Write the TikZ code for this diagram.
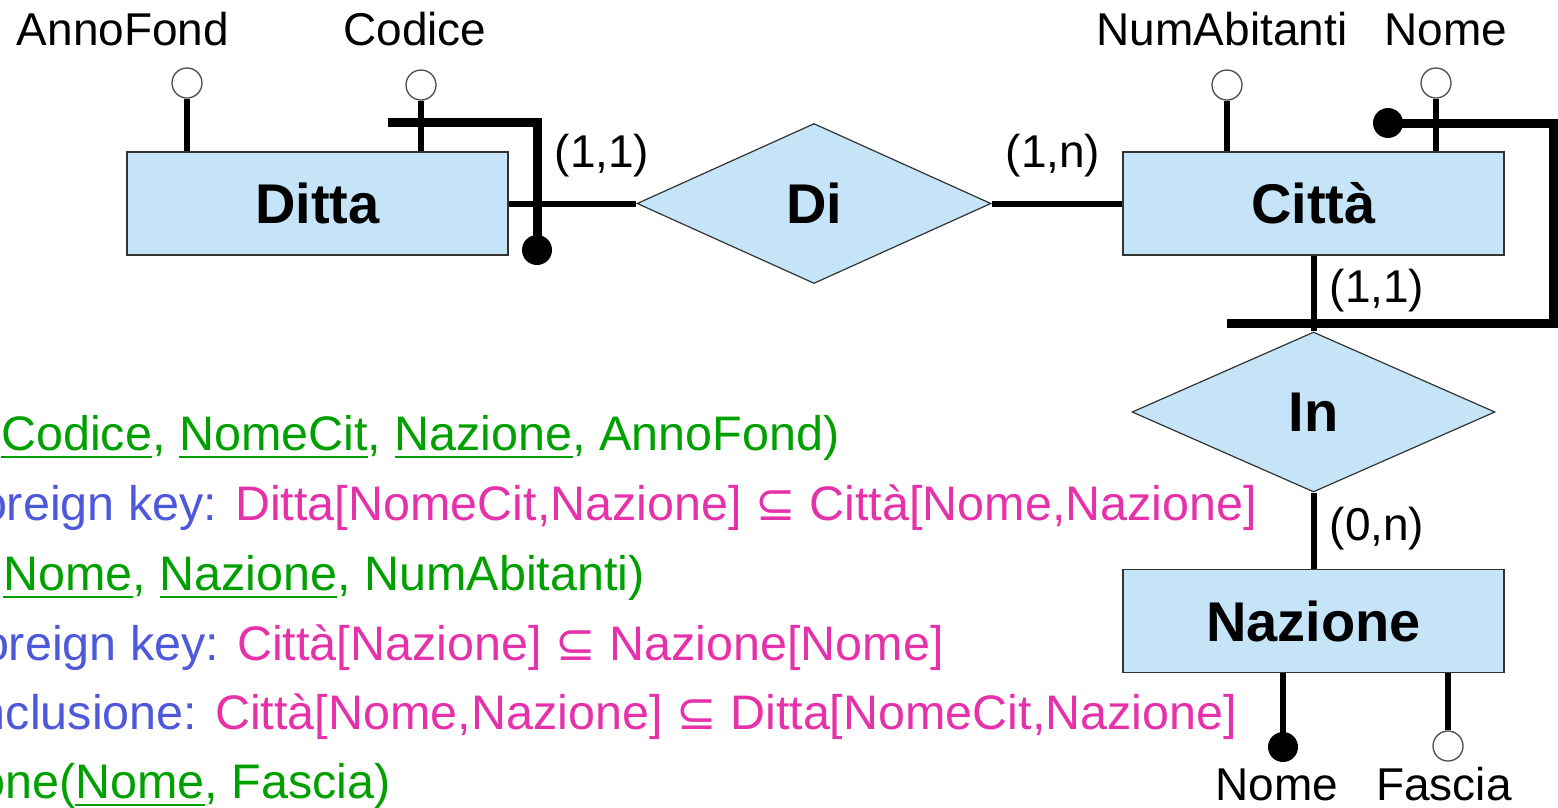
\documentclass[tikz,border=0pt]{standalone}
\usepackage{fontspec}
\setmainfont{Liberation Sans}
\newfontfamily\symfont{DejaVu Sans}
\usetikzlibrary{shapes.geometric}
\definecolor{erfill}{RGB}{197,228,248}
\definecolor{txtgreen}{RGB}{0,160,0}
\definecolor{txtblue}{RGB}{78,88,218}
\definecolor{txtpink}{RGB}{230,50,170}
\newsavebox\ulbox
\newcommand\uln[1]{\sbox\ulbox{#1}\rlap{\rule[-8pt]{\wd\ulbox}{2pt}}\usebox\ulbox}
\newcommand\subsetsym{{\symfont ⊆}}
\begin{document}
\begin{tikzpicture}[x=1pt,y=-1pt,
  entity/.style={rectangle,draw=black!80,line width=1.5pt,fill=erfill,inner sep=0pt,
    minimum width=381pt,minimum height=103pt,font=\fontsize{56}{60}\selectfont\bfseries},
  relation/.style={diamond,draw=black!80,line width=1.2pt,fill=erfill,inner sep=0pt,
    font=\fontsize{56}{60}\selectfont\bfseries},
  attr/.style={circle,draw=black!70,line width=1.3pt,fill=white,minimum size=30pt,inner sep=0pt},
  keyattr/.style={circle,fill=black,minimum size=30pt,inner sep=0pt},
  conn/.style={line width=6pt},
  idbar/.style={line width=9pt},
  lbl/.style={inner sep=0pt,anchor=base,font=\fontsize{46}{50}\selectfont},
  reltext/.style={inner sep=0pt,anchor=base west,font=\fontsize{48.5}{52}\selectfont},
]
\useasboundingbox (0,0) rectangle (1558,807);
\clip (0,0) rectangle (1558,807);

% entities and relationships
\node[entity] (ditta) at (317.5,203.5) {Ditta};
\node[entity] (citta) at (1313.5,203.5) {Città};
\node[entity] (nazione) at (1313.5,621) {Nazione};
\node[relation,minimum width=354pt,minimum height=160pt] (di) at (814,203.5) {Di};
\node[relation,minimum width=363pt,minimum height=160pt] (in) at (1313.5,412) {In};

% connectors
\draw[conn] (ditta.east) -- (di.west);
\draw[conn] (di.east) -- (citta.west);
\draw[conn] (citta.south) -- (in.north);
\draw[conn] (in.south) -- (nazione.north);

% attribute circles
\node[attr] (annofond) at (187,83) {};
\node[attr] (codice) at (421,85) {};
\node[attr] (numab) at (1227,85) {};
\node[attr] (cnome) at (1436,83) {};
\node[attr] (fascia) at (1448,746) {};

\draw[conn] (annofond.south) -- (annofond.south |- ditta.north);
\draw[conn] (codice.south) -- (codice.south |- ditta.north);
\draw[conn] (numab.south) -- (numab.south |- citta.north);
\draw[conn] (cnome.south) -- (cnome.south |- citta.north);
\draw[conn] (fascia.north) -- (fascia.north |- nazione.south);

% identifiers
\coordinate (dk1) at (388,122);
\coordinate (dk2) at (537,122);
\node[keyattr] (dkdot) at (537,250) {};
\draw[idbar] (dk1) -- (dk2) -- (dkdot.center);

\coordinate (ck1) at (1553,123);
\coordinate (ck2) at (1553,323);
\coordinate (ck3) at (1227,323);
\node[keyattr] (ckdot) at (1388,123) {};
\draw[idbar] (ckdot.center) -- (ck1) -- (ck2) -- (ck3);

\node[keyattr] (nnome) at (1283,747) {};
\draw[conn] (nnome.center) -- (nnome.center |- nazione.south);

% attribute labels
\node[lbl] (lannofond) at (123,45) {AnnoFond};
\node[lbl] (lcodice) at (415,45) {Codice};
\node[lbl] (lnumab) at (1222,45) {NumAbitanti};
\node[lbl] (lcnome) at (1446,45) {Nome};
\node[lbl] (lnnome) at (1277,800) {Nome};
\node[lbl] (lfascia) at (1444,800) {Fascia};

% cardinalities
\node[lbl] (c1) at (602,167) {(1,1)};
\node[lbl] (c2) at (1053,167) {(1,n)};
\node[lbl] (c3) at (1377,302) {(1,1)};
\node[lbl] (c4) at (1377,540) {(0,n)};

% relational schema
\node[reltext,text=txtgreen] (r1) at (1,450)
  {\llap{Ditta(\kern8pt}\uln{Codice}, \uln{NomeCit}, \uln{Nazione}, AnnoFond)};
\node[reltext,text=txtpink] (r2) at (235,520)
  {\llap{\textcolor{txtblue}{foreign key: }}Ditta[NomeCit,Nazione] \subsetsym{} Città[Nome,Nazione]};
\node[reltext,text=txtgreen] (r3) at (3,590)
  {\llap{Città(\kern8pt}\uln{Nome}, \uln{Nazione}, NumAbitanti)};
\node[reltext,text=txtpink] (r4) at (237,660)
  {\llap{\textcolor{txtblue}{foreign key: }}Città[Nazione] \subsetsym{} Nazione[Nome]};
\node[reltext,text=txtpink] (r5) at (215,729)
  {\llap{\textcolor{txtblue}{inclusione: }}Città[Nome,Nazione] \subsetsym{} Ditta[NomeCit,Nazione]};
\node[reltext,text=txtgreen] (r6) at (75,798)
  {\llap{Nazione(}\uln{Nome}, Fascia)};
\end{tikzpicture}
\end{document}
